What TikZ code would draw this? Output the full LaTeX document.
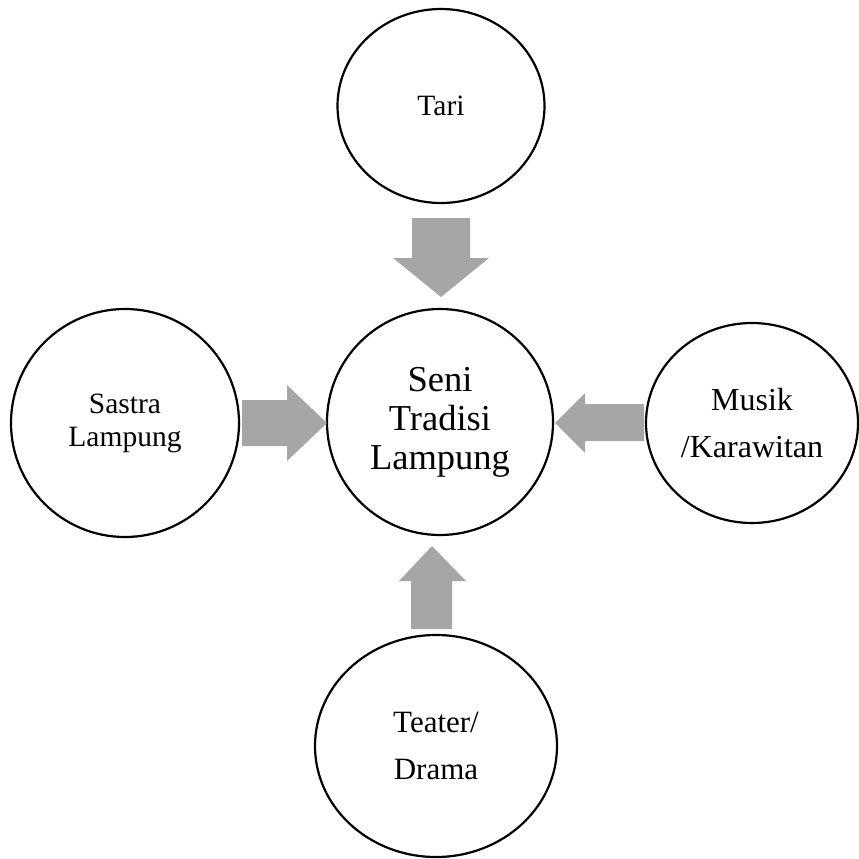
\documentclass[tikz,border=0pt]{standalone}
\usepackage{fontspec}
\setmainfont{Liberation Serif}
\usetikzlibrary{shapes.geometric}
\definecolor{arrowgray}{HTML}{A6A6A6}
\tikzset{
  bubble/.style={ellipse, draw=black, line width=2.2pt, inner sep=0pt, align=center, fill=white},
  blockarrow/.style={fill=arrowgray, draw=none}
}
\begin{document}
\begin{tikzpicture}[x=1pt, y=-1pt]
\useasboundingbox (0,0) rectangle (859,859);
\node[bubble, minimum width=207pt, minimum height=194pt, font=\fontsize{29.5}{33}\selectfont] (tari) at (441,106) {Tari};
\node[bubble, minimum width=226pt, minimum height=226pt, font=\fontsize{36.5}{39}\selectfont] (seni) at (440,422) {Seni\\Tradisi\\Lampung};
\node[bubble, minimum width=228pt, minimum height=228pt, font=\fontsize{29.5}{33}\selectfont] (sastra) at (125,423) {Sastra\\Lampung};
\node[bubble, minimum width=212pt, minimum height=200pt, font=\fontsize{32}{47}\selectfont] (musik) at (752,423) {Musik\\/Karawitan};
\node[bubble, minimum width=242pt, minimum height=222pt, font=\fontsize{31}{47}\selectfont] (teater) at (436,746) {Teater/\\Drama};
% block arrows
\fill[blockarrow] (412,218) -- (470,218) -- (470,258) -- (489,258) -- (441,297) -- (393,258) -- (412,258) -- cycle;
\fill[blockarrow] (242,400) -- (287,400) -- (287,385) -- (327,423) -- (287,461) -- (287,446) -- (242,446) -- cycle;
\fill[blockarrow] (644,404) -- (585,404) -- (585,393) -- (555,423) -- (585,453) -- (585,441) -- (644,441) -- cycle;
\fill[blockarrow] (411,629) -- (411,581) -- (399,581) -- (432,546) -- (466,581) -- (452,581) -- (452,629) -- cycle;
\end{tikzpicture}
\end{document}
